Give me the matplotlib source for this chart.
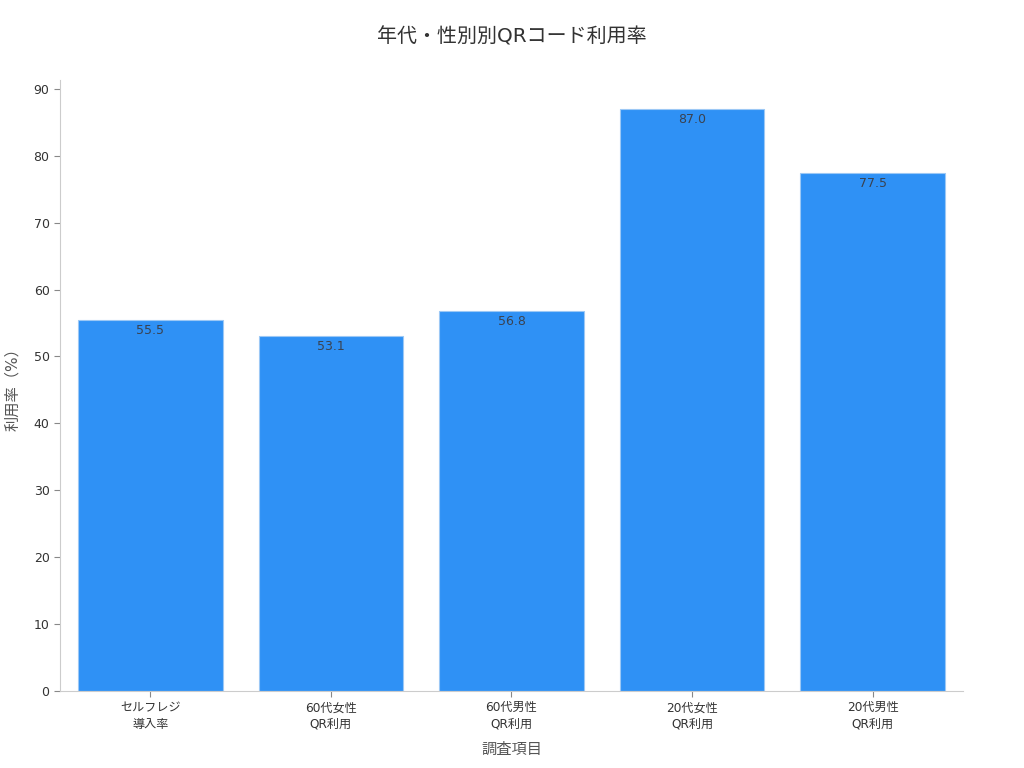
import matplotlib
matplotlib.use('Agg')
import matplotlib.pyplot as plt
import numpy as np

plt.rcParams['font.family'] = ['DejaVu Sans', 'Noto Sans CJK JP']

categories = ['セルフレジ\n導入率', '60代女性\nQR利用', '60代男性\nQR利用', '20代女性\nQR利用', '20代男性\nQR利用']
values = [55.5, 53.1, 56.8, 87.0, 77.5]

fig = plt.figure(figsize=(10.24, 7.68), dpi=100)
ax = fig.add_axes([0.0586, 0.1003, 0.8818, 0.7957])
x = np.arange(len(categories))
bars = ax.bar(x, values, width=0.8, color='#2f91f5', edgecolor='#9cc8f5', linewidth=0.8)
for xi, v in zip(x, values):
    ax.text(xi, v - 0.6, f'{v:.1f}', ha='center', va='top', fontsize=9, color='#3a4250')

ax.set_xlim(-0.5, 4.5)
ax.set_ylim(0, max(values) * 1.05)
ax.set_yticks(range(0, 91, 10))
ax.set_xticks(x)
ax.set_xticklabels(categories, fontsize=8.7, color='#333333', linespacing=1.35)
ax.tick_params(axis='y', labelsize=9, labelcolor='#333333', color='#888888', length=4)
ax.tick_params(axis='x', color='#888888', length=4)
for s in ['top', 'right']:
    ax.spines[s].set_visible(False)
for s in ['left', 'bottom']:
    ax.spines[s].set_color('#cccccc')
ax.set_xlabel('調査項目', fontsize=11, color='#555555', labelpad=8)
ax.set_ylabel('利用率（%）', fontsize=11, color='#555555', labelpad=10)
fig.suptitle('年代・性別別QRコード利用率', fontsize=14.4, color='#333333', y=0.965)
fig.savefig('out.png', dpi=100)
